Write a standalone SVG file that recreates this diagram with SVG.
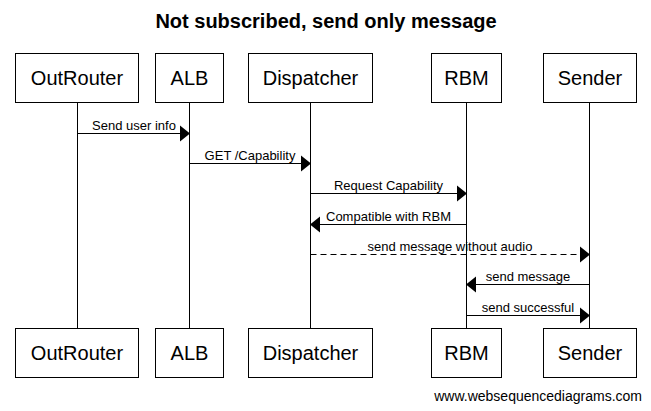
<svg xmlns="http://www.w3.org/2000/svg" width="651" height="411" viewBox="0 0 651 411">
<style>
.box{fill:#fff;stroke:#000;stroke-width:1}
.bl{font-family:"Liberation Sans",Arial,sans-serif;font-size:20px;text-anchor:middle;fill:#000}
.ml{font-family:"Liberation Sans",Arial,sans-serif;font-size:13px;text-anchor:middle;fill:#000}
.life{stroke:#000;stroke-width:1}
.msg{stroke:#000;stroke-width:1;fill:none}
.dash{stroke-dasharray:6,4}
.head{fill:#000}
</style>
<rect width="651" height="411" fill="#fff"/>
<text x="326" y="28" font-family="'Liberation Sans',Arial,sans-serif" font-size="20" font-weight="bold" text-anchor="middle">Not subscribed, send only message</text>
<g id="lifelines">
<line class="life" x1="77.5" y1="102" x2="77.5" y2="328"/>
<line class="life" x1="189.5" y1="102" x2="189.5" y2="328"/>
<line class="life" x1="310.5" y1="102" x2="310.5" y2="328"/>
<line class="life" x1="466.5" y1="102" x2="466.5" y2="328"/>
<line class="life" x1="589.5" y1="102" x2="589.5" y2="328"/>
</g>
<g id="OutRouter">
<rect class="box" x="15.5" y="53.5" width="123" height="49"/>
<text class="bl" x="77" y="85">OutRouter</text>
<rect class="box" x="15.5" y="328.5" width="123" height="49"/>
<text class="bl" x="77" y="360">OutRouter</text>
</g>
<g id="ALB">
<rect class="box" x="155.5" y="53.5" width="68" height="49"/>
<text class="bl" x="189.5" y="85">ALB</text>
<rect class="box" x="155.5" y="328.5" width="68" height="49"/>
<text class="bl" x="189.5" y="360">ALB</text>
</g>
<g id="Dispatcher">
<rect class="box" x="248.5" y="53.5" width="124" height="49"/>
<text class="bl" x="310.5" y="85">Dispatcher</text>
<rect class="box" x="248.5" y="328.5" width="124" height="49"/>
<text class="bl" x="310.5" y="360">Dispatcher</text>
</g>
<g id="RBM">
<rect class="box" x="431.5" y="53.5" width="70" height="49"/>
<text class="bl" x="466.5" y="85">RBM</text>
<rect class="box" x="431.5" y="328.5" width="70" height="49"/>
<text class="bl" x="466.5" y="360">RBM</text>
</g>
<g id="Sender">
<rect class="box" x="543.5" y="53.5" width="93" height="49"/>
<text class="bl" x="590" y="85">Sender</text>
<rect class="box" x="543.5" y="328.5" width="93" height="49"/>
<text class="bl" x="590" y="360">Sender</text>
</g>
<g id="connectors">
<line class="msg" x1="77.5" y1="133.5" x2="181" y2="133.5"/>
<polygon class="head" points="190,133.5 180,125.5 180,141.5"/>
<text class="ml" x="134" y="129.5">Send user info</text>

<line class="msg" x1="189.5" y1="163.5" x2="302" y2="163.5"/>
<polygon class="head" points="311,163.5 301,155.5 301,171.5"/>
<text class="ml" x="250" y="159.5">GET /Capability</text>

<line class="msg" x1="310.5" y1="193.5" x2="458" y2="193.5"/>
<polygon class="head" points="467,193.5 457,185.5 457,201.5"/>
<text class="ml" x="388.5" y="189.5">Request Capability</text>

<line class="msg" x1="466.5" y1="224.5" x2="319" y2="224.5"/>
<polygon class="head" points="310,224.5 320,216.5 320,232.5"/>
<text class="ml" x="388.5" y="220.5">Compatible with RBM</text>

<line class="msg dash" x1="310.5" y1="254.5" x2="581" y2="254.5"/>
<polygon class="head" points="590,254.5 580,246.5 580,262.5"/>
<text class="ml" x="450" y="250.5">send message without audio</text>

<line class="msg" x1="589.5" y1="284.5" x2="475" y2="284.5"/>
<polygon class="head" points="466,284.5 476,276.5 476,292.5"/>
<text class="ml" x="528" y="280.5">send message</text>

<line class="msg" x1="466.5" y1="315.5" x2="581" y2="315.5"/>
<polygon class="head" points="590,315.5 580,307.5 580,323.5"/>
<text class="ml" x="528" y="311.5">send successful</text>
</g>
<text x="642" y="401" font-family="'Liberation Sans',Arial,sans-serif" font-size="14" text-anchor="end">www.websequencediagrams.com</text>
</svg>
